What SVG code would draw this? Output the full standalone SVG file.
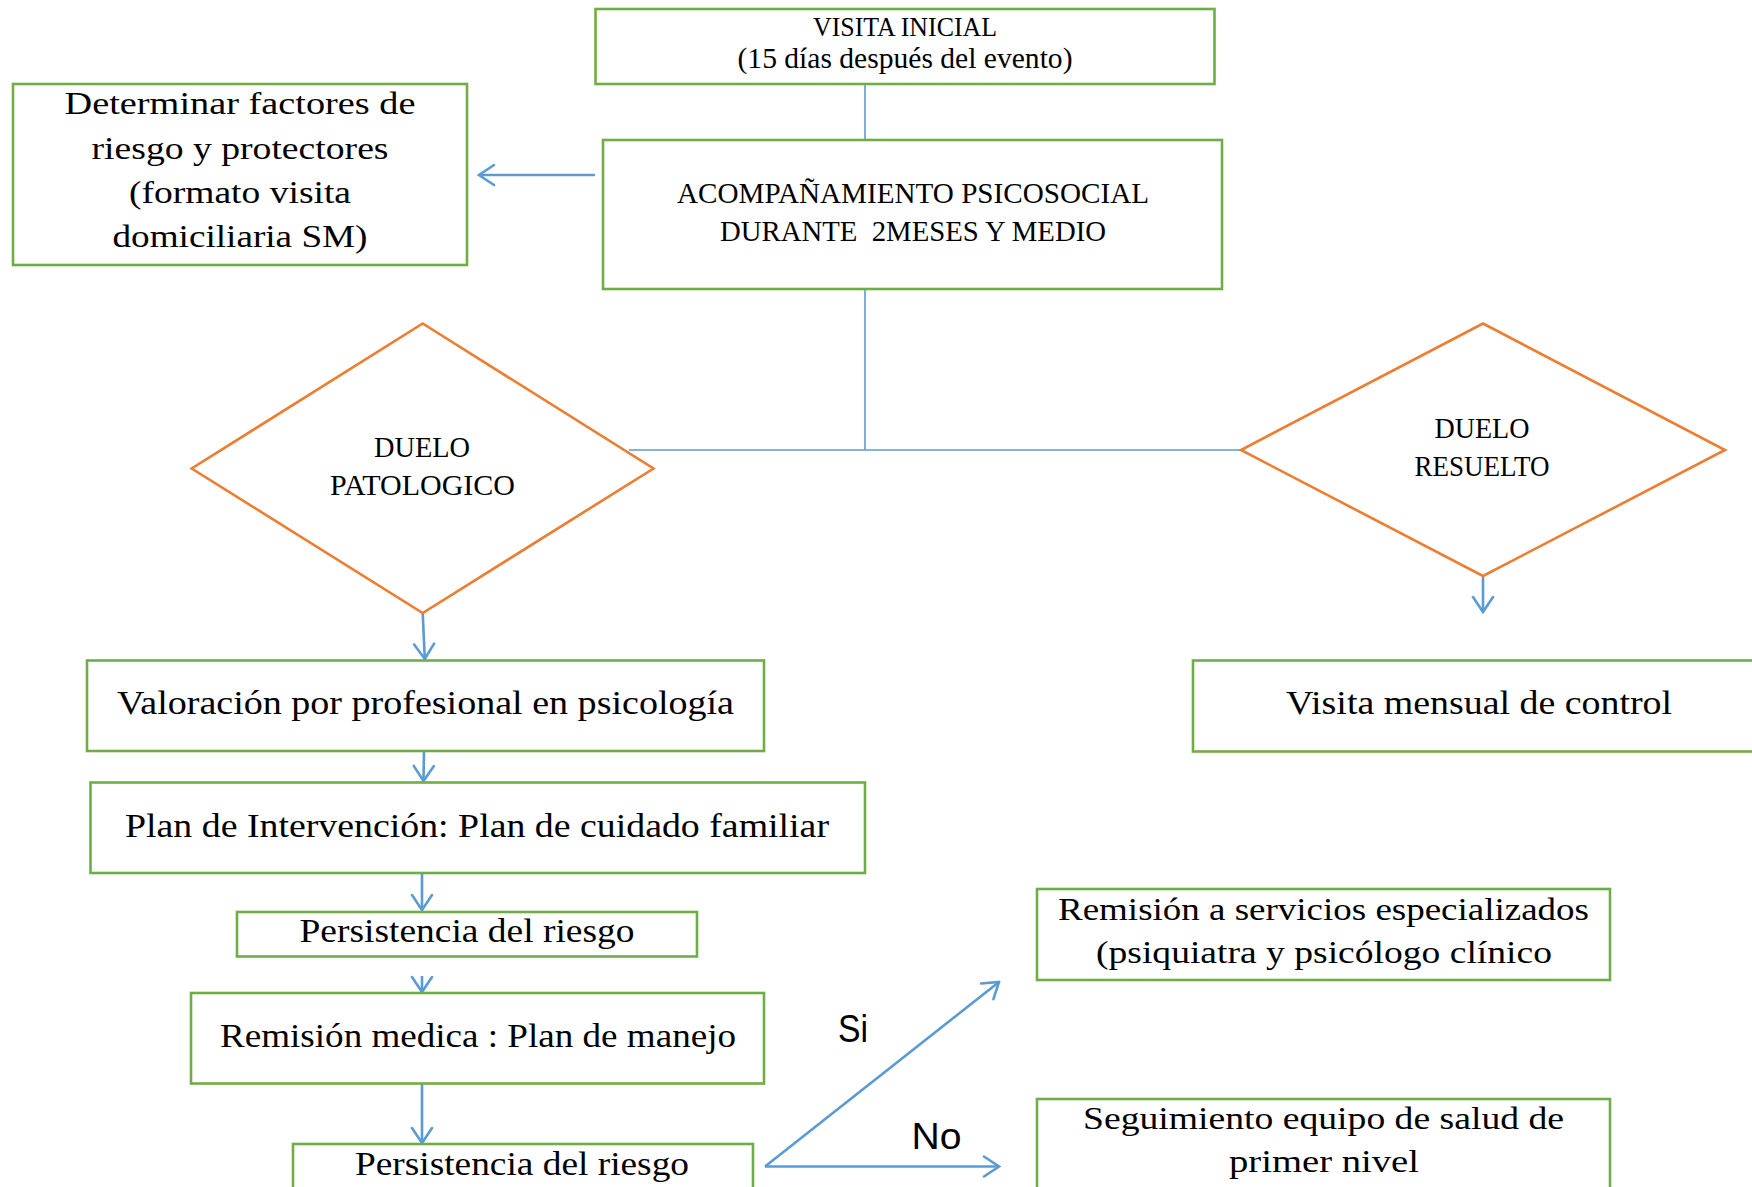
<svg xmlns="http://www.w3.org/2000/svg" width="1752" height="1187" viewBox="0 0 1752 1187">
<style>
.box{fill:#fff;stroke:#70AD47;stroke-width:2.6}
.dia{fill:#fff;stroke:#ED7D31;stroke-width:2.6}
.t{font-family:"Liberation Serif","Times New Roman",serif;fill:#000;text-anchor:middle}
.s{font-family:"Liberation Sans",Arial,sans-serif;fill:#000}
.ln{stroke:#5B9BD5;stroke-width:1.6;fill:none}
.ar{stroke:#5B9BD5;stroke-width:2.6;fill:none}
</style>
<defs>
<marker id="ah" markerUnits="userSpaceOnUse" viewBox="-18 -12 20 24" markerWidth="20" markerHeight="24" refX="0" refY="0" orient="auto">
<path d="M-15,-10 L0,0 L-15,10" fill="none" stroke="#5B9BD5" stroke-width="2.6" stroke-linecap="round" stroke-linejoin="miter"/>
</marker>
</defs>
<rect width="1752" height="1187" fill="#fff"/>

<g id="connectors">
<line class="ln" x1="865" y1="84" x2="865" y2="140"/>
<line class="ln" x1="865" y1="289" x2="865" y2="450"/>
<line class="ln" x1="629" y1="450" x2="1241" y2="450"/>
<line class="ar" x1="595" y1="175" x2="479" y2="175" marker-end="url(#ah)"/>
<line class="ar" x1="1483" y1="576" x2="1483" y2="612" marker-end="url(#ah)"/>
<line class="ar" x1="422.7" y1="613" x2="424.8" y2="659" marker-end="url(#ah)"/>
<line class="ar" x1="424" y1="751" x2="423.5" y2="781" marker-end="url(#ah)"/>
<line class="ar" x1="422" y1="873" x2="422" y2="910" marker-end="url(#ah)"/>
<line class="ar" x1="422" y1="976" x2="422" y2="992" marker-end="url(#ah)"/>
<line class="ar" x1="422" y1="1084" x2="422" y2="1143" marker-end="url(#ah)"/>
<line class="ar" x1="765" y1="1166.5" x2="999" y2="982" marker-end="url(#ah)"/>
<line class="ar" x1="765" y1="1166.5" x2="999" y2="1166.5" marker-end="url(#ah)"/>
</g>

<g id="visita-inicial">
<rect class="box" x="595.5" y="9" width="619" height="75"/>
<text class="t" x="905" y="36" font-size="28" textLength="184" lengthAdjust="spacingAndGlyphs">VISITA INICIAL</text>
<text class="t" x="905" y="68" font-size="29" textLength="335" lengthAdjust="spacingAndGlyphs">(15 días después del evento)</text>
</g>

<g id="acompanamiento">
<rect class="box" x="603" y="140" width="619" height="149"/>
<text class="t" x="913" y="203" font-size="29" textLength="472" lengthAdjust="spacingAndGlyphs">ACOMPAÑAMIENTO PSICOSOCIAL</text>
<text class="t" x="913" y="241" font-size="29" textLength="386" lengthAdjust="spacingAndGlyphs" xml:space="preserve">DURANTE  2MESES Y MEDIO</text>
</g>

<g id="determinar">
<rect class="box" x="13" y="84" width="454" height="181"/>
<text class="t" x="240" y="114" font-size="32" textLength="351" lengthAdjust="spacingAndGlyphs">Determinar factores de</text>
<text class="t" x="240" y="159" font-size="32" textLength="297" lengthAdjust="spacingAndGlyphs">riesgo y protectores</text>
<text class="t" x="240" y="203" font-size="32" textLength="222" lengthAdjust="spacingAndGlyphs">(formato visita</text>
<text class="t" x="240" y="247" font-size="32" textLength="255" lengthAdjust="spacingAndGlyphs">domiciliaria SM)</text>
</g>

<g id="duelo-patologico">
<polygon class="dia" points="422.7,323.5 653.5,468.5 422.7,613 191.7,468.5"/>
<text class="t" x="422" y="456.5" font-size="30" textLength="96" lengthAdjust="spacingAndGlyphs">DUELO</text>
<text class="t" x="422.5" y="495" font-size="30" textLength="185" lengthAdjust="spacingAndGlyphs">PATOLOGICO</text>
</g>

<g id="duelo-resuelto">
<polygon class="dia" points="1483,323.5 1725,450 1483,576 1241,450"/>
<text class="t" x="1482" y="438" font-size="30" textLength="95" lengthAdjust="spacingAndGlyphs">DUELO</text>
<text class="t" x="1482" y="476" font-size="30" textLength="135" lengthAdjust="spacingAndGlyphs">RESUELTO</text>
</g>

<g id="visita-mensual">
<rect class="box" x="1193" y="660.5" width="580" height="91"/>
<text class="t" x="1479" y="714" font-size="33" textLength="386" lengthAdjust="spacingAndGlyphs">Visita mensual de control</text>
</g>

<g id="valoracion">
<rect class="box" x="87" y="660.5" width="677" height="90.5"/>
<text class="t" x="425.5" y="714" font-size="34" textLength="617" lengthAdjust="spacingAndGlyphs">Valoración por profesional en psicología</text>
</g>

<g id="plan">
<rect class="box" x="90.5" y="782.5" width="774.5" height="90.5"/>
<text class="t" x="477" y="837" font-size="33" textLength="704" lengthAdjust="spacingAndGlyphs">Plan de Intervención: Plan de cuidado familiar</text>
</g>

<g id="persistencia-1">
<rect class="box" x="237" y="912" width="460" height="44.5"/>
<text class="t" x="467" y="942" font-size="33" textLength="335" lengthAdjust="spacingAndGlyphs">Persistencia del riesgo</text>
</g>

<g id="remision-medica">
<rect class="box" x="191" y="993" width="573" height="90.5"/>
<text class="t" x="478" y="1047" font-size="34" textLength="516" lengthAdjust="spacingAndGlyphs">Remisión medica : Plan de manejo</text>
</g>

<g id="persistencia-2">
<rect class="box" x="293" y="1144" width="460" height="60"/>
<text class="t" x="522" y="1175" font-size="33" textLength="334" lengthAdjust="spacingAndGlyphs">Persistencia del riesgo</text>
</g>

<g id="remision-servicios">
<rect class="box" x="1037" y="889" width="573" height="91"/>
<text class="t" x="1323.5" y="920" font-size="31" textLength="531" lengthAdjust="spacingAndGlyphs">Remisión a servicios especializados</text>
<text class="t" x="1324" y="963" font-size="31" textLength="456" lengthAdjust="spacingAndGlyphs">(psiquiatra y psicólogo clínico</text>
</g>

<g id="seguimiento">
<rect class="box" x="1037" y="1099" width="573" height="110"/>
<text class="t" x="1323.5" y="1128.5" font-size="31" textLength="481" lengthAdjust="spacingAndGlyphs">Seguimiento equipo de salud de</text>
<text class="t" x="1324" y="1172" font-size="31" textLength="190" lengthAdjust="spacingAndGlyphs">primer nivel</text>
</g>

<g id="labels">
<text class="s" x="838" y="1041.5" font-size="38" textLength="30" lengthAdjust="spacingAndGlyphs">Si</text>
<text class="s" x="911.5" y="1148.5" font-size="37" textLength="50" lengthAdjust="spacingAndGlyphs">No</text>
</g>
</svg>
